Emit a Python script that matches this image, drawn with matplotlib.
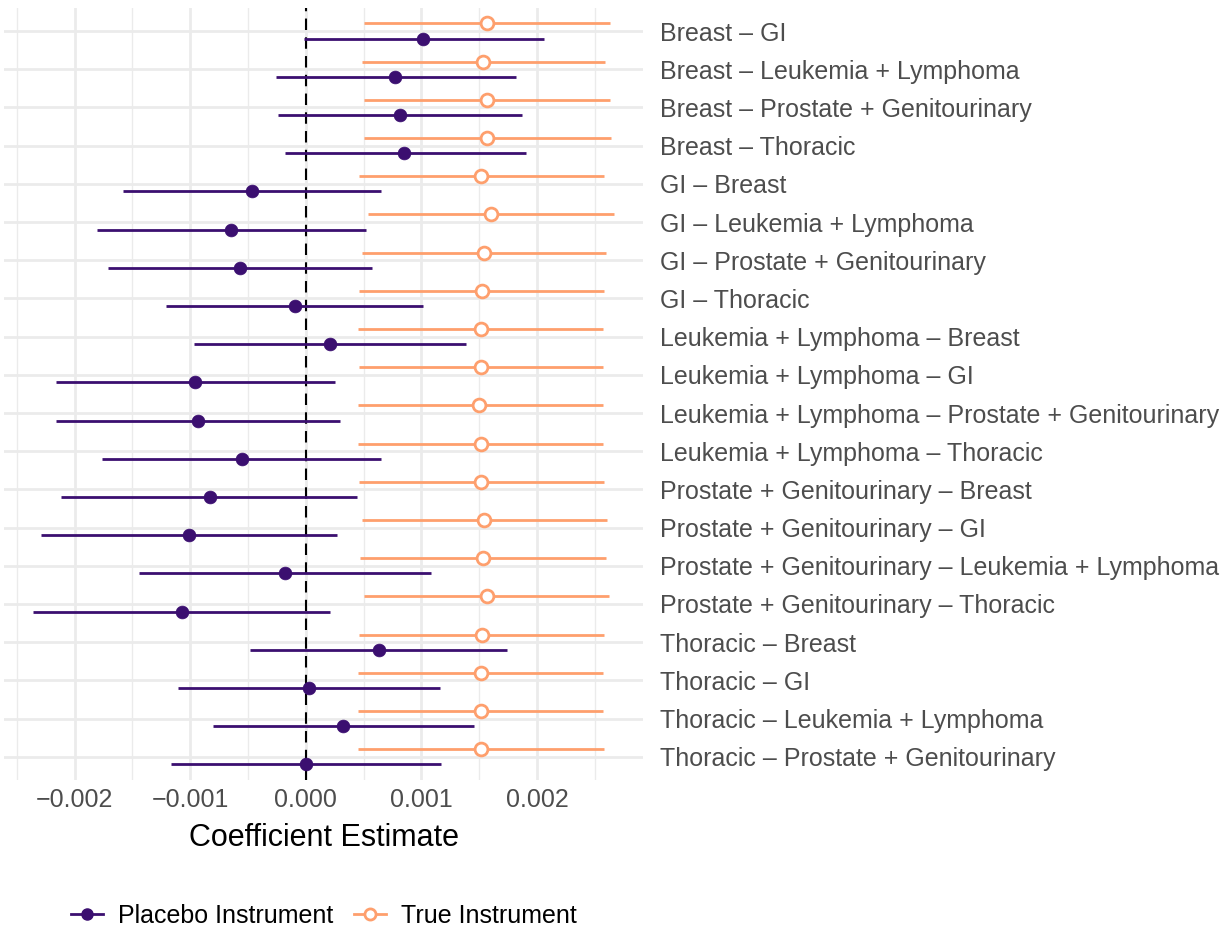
import matplotlib
matplotlib.use("Agg")
import matplotlib.pyplot as plt
from matplotlib.lines import Line2D
from matplotlib.ticker import FixedLocator, FuncFormatter
import numpy as np

# comparison labels, top to bottom
pairs = [
    "Breast – GI",
    "Breast – Leukemia + Lymphoma",
    "Breast – Prostate + Genitourinary",
    "Breast – Thoracic",
    "GI – Breast",
    "GI – Leukemia + Lymphoma",
    "GI – Prostate + Genitourinary",
    "GI – Thoracic",
    "Leukemia + Lymphoma – Breast",
    "Leukemia + Lymphoma – GI",
    "Leukemia + Lymphoma – Prostate + Genitourinary",
    "Leukemia + Lymphoma – Thoracic",
    "Prostate + Genitourinary – Breast",
    "Prostate + Genitourinary – GI",
    "Prostate + Genitourinary – Leukemia + Lymphoma",
    "Prostate + Genitourinary – Thoracic",
    "Thoracic – Breast",
    "Thoracic – GI",
    "Thoracic – Leukemia + Lymphoma",
    "Thoracic – Prostate + Genitourinary",
]

# estimates and 95% bounds (x 1e-3)
placebo_est = [1.016, 0.773, 0.817, 0.853, -0.465, -0.646, -0.566, -0.091, 0.207, -0.955,
               -0.933, -0.552, -0.831, -1.009, -0.181, -1.071, 0.635, 0.025, 0.319, 0.000]
placebo_lo = [-0.018, -0.258, -0.240, -0.178, -1.579, -1.808, -1.706, -1.205, -0.966, -2.156,
              -2.156, -1.764, -2.113, -2.294, -1.445, -2.356, -0.479, -1.103, -0.806, -1.169]
placebo_hi = [2.065, 1.822, 1.873, 1.902, 0.653, 0.523, 0.573, 1.013, 1.383, 0.254,
              0.294, 0.653, 0.446, 0.272, 1.082, 0.214, 1.742, 1.162, 1.452, 1.172]

true_est = [1.572, 1.535, 1.572, 1.572, 1.514, 1.604, 1.546, 1.524, 1.514, 1.514,
            1.503, 1.514, 1.514, 1.546, 1.535, 1.564, 1.524, 1.514, 1.514, 1.514]
true_lo = [0.508, 0.483, 0.508, 0.508, 0.461, 0.541, 0.483, 0.461, 0.450, 0.461,
           0.450, 0.450, 0.461, 0.490, 0.472, 0.501, 0.461, 0.450, 0.450, 0.450]
true_hi = [2.632, 2.592, 2.632, 2.642, 2.581, 2.668, 2.599, 2.581, 2.570, 2.570,
           2.570, 2.570, 2.581, 2.610, 2.599, 2.621, 2.581, 2.570, 2.570, 2.581]

PURPLE = "#3B0F70"
ORANGE = "#FE9F6D"
FONT = "Liberation Sans"

plt.rcParams["font.family"] = [FONT, "DejaVu Sans"]

fig = plt.figure(figsize=(12.31, 9.30), dpi=100)
ax = fig.add_axes([0.0035, 0.1616, 0.519, 0.8297])

scale = 1e-3
y = np.arange(len(pairs))
dodge = 0.2


def draw_series(est, lo, hi, offset, color, filled):
    est = np.array(est) * scale
    lo = np.array(lo) * scale
    hi = np.array(hi) * scale
    ax.hlines(y + offset, lo, hi, color=color, lw=2.0, zorder=3)
    ax.scatter(est, y + offset, s=85,
               facecolor=color if filled else "white",
               edgecolor=color, linewidths=2.0 if not filled else 0.5, zorder=4)


draw_series(true_est, true_lo, true_hi, -dodge, ORANGE, False)
draw_series(placebo_est, placebo_lo, placebo_hi, dodge, PURPLE, True)

ax.axvline(0, color="black", lw=1.5, ls=(0, (5.5, 3.5)), zorder=2)

# axes and grid
lo_all = min(placebo_lo + true_lo) * scale
hi_all = max(placebo_hi + true_hi) * scale
pad = 0.05 * (hi_all - lo_all)
ax.set_xlim(lo_all - pad, hi_all + pad)
ax.set_ylim(len(pairs) - 1 + 0.6, -0.6)

ax.xaxis.set_major_locator(FixedLocator([-0.002, -0.001, 0.0, 0.001, 0.002]))
ax.xaxis.set_minor_locator(FixedLocator([-0.0025, -0.0015, -0.0005, 0.0005, 0.0015, 0.0025]))
ax.xaxis.set_major_formatter(FuncFormatter(lambda v, p: f"{v:.3f}".replace("-", "\u2212")))
ax.set_yticks(y)
ax.set_yticklabels(pairs)
ax.yaxis.tick_right()

ax.grid(True, which="major", color="#EBEBEB", lw=2.0, zorder=0)
ax.grid(True, which="minor", axis="x", color="#EBEBEB", lw=1.0, zorder=0)
ax.set_axisbelow(True)
for s in ax.spines.values():
    s.set_visible(False)

ax.tick_params(axis="both", which="both", length=0)
ax.tick_params(axis="y", pad=12, labelsize=18, labelcolor="#4D4D4D")
ax.tick_params(axis="x", pad=6, labelsize=18, labelcolor="#4D4D4D")
ax.set_xlabel("Coefficient Estimate", fontsize=22, color="black", labelpad=8)

# legend
handles = [
    Line2D([0], [0], color=PURPLE, lw=2.0, marker="o", markersize=8,
           markerfacecolor=PURPLE, markeredgecolor=PURPLE),
    Line2D([0], [0], color=ORANGE, lw=2.0, marker="o", markersize=8,
           markerfacecolor="white", markeredgecolor=ORANGE, markeredgewidth=2.0),
]
fig.legend(handles, ["Placebo Instrument", "True Instrument"], loc="center",
           bbox_to_anchor=(0.263, 0.015), ncol=2, frameon=False,
           fontsize=18, handlelength=1.3, handletextpad=0.6, columnspacing=0.8)

fig.savefig("out.png", dpi=100)
